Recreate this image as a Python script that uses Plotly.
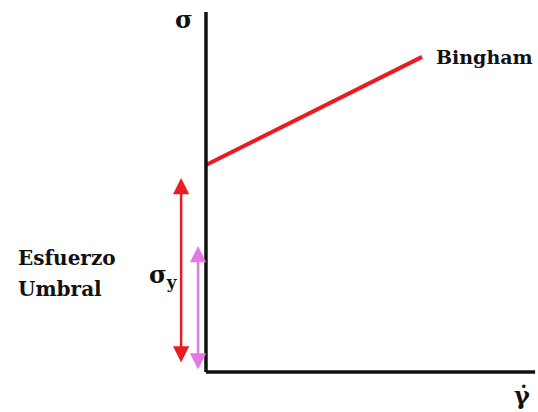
import plotly.graph_objects as go

# Bingham model: sigma = sigma_y + eta * gamma_dot
gamma_dot = [0.0, 6.0]
sigma = [5.75, 8.75]

# yield-stress indicators (sigma range they span)
red_arrow_x = -0.69
red_arrow_sigma = [0.22, 5.39]
mag_arrow_x = -0.22
mag_arrow_sigma = [0.03, 3.5]

axis_top = 10.0
axis_right = 9.14

FONT = "DejaVu Serif"
INK = "#111111"
RED = "#ea1c22"
MAG = "#e27ae6"

fig = go.Figure()

fig.add_trace(go.Scatter(x=gamma_dot, y=sigma, mode="lines",
                         line=dict(color=RED, width=4), showlegend=False,
                         hoverinfo="skip"))

# axes
fig.add_shape(type="line", x0=0, x1=0, y0=0, y1=axis_top,
              line=dict(color=INK, width=3.5))
fig.add_shape(type="line", x0=0, x1=axis_right, y0=0, y1=0,
              line=dict(color=INK, width=3.5))

# double arrows
for ax_x, rng, col in [(red_arrow_x, red_arrow_sigma, RED), (mag_arrow_x, mag_arrow_sigma, MAG)]:
    fig.add_annotation(x=ax_x, y=rng[1], ax=ax_x, ay=rng[0],
                       xref="x", yref="y", axref="x", ayref="y", text="", showarrow=True,
                       arrowhead=2, startarrowhead=2, arrowside="end+start", arrowwidth=2.5,
                       arrowsize=1.3, startarrowsize=1.3, arrowcolor=col,
                       standoff=0, startstandoff=0)

# labels
fig.add_annotation(x=-0.61, y=9.78, text="<b>σ</b>", showarrow=False,
                   font=dict(family=FONT, size=24, color=INK))
fig.add_annotation(x=6.33, y=8.75, text="<b>Bingham</b>", showarrow=False, xanchor="left",
                   font=dict(family=FONT, size=19, color=INK))
fig.add_annotation(x=-5.28, y=3.17, text="<b>Esfuerzo</b>", showarrow=False,
                   xanchor="left", font=dict(family=FONT, size=20, color=INK))
fig.add_annotation(x=-5.28, y=2.31, text="<b>Umbral</b>", showarrow=False,
                   xanchor="left", font=dict(family=FONT, size=20, color=INK))
fig.add_annotation(x=-1.64, y=2.67, text="<b>σ<sub>y</sub></b>", showarrow=False,
                   xanchor="left", font=dict(family=FONT, size=24, color=INK))
fig.add_annotation(x=8.78, y=-0.64, text="<b>γ̇</b>", showarrow=False,
                   font=dict(family=FONT, size=24, color=INK))

fig.update_layout(
    width=538, height=412,
    margin=dict(l=0, r=0, t=0, b=0),
    paper_bgcolor="white", plot_bgcolor="white",
    xaxis=dict(range=[-5.72, 9.22], visible=False, fixedrange=True),
    yaxis=dict(range=[-1.11, 10.33], visible=False, fixedrange=True),
    showlegend=False,
)

fig.write_html("out.html", config=dict(displayModeBar=False),
               post_script="document.body.style.margin='0';")
